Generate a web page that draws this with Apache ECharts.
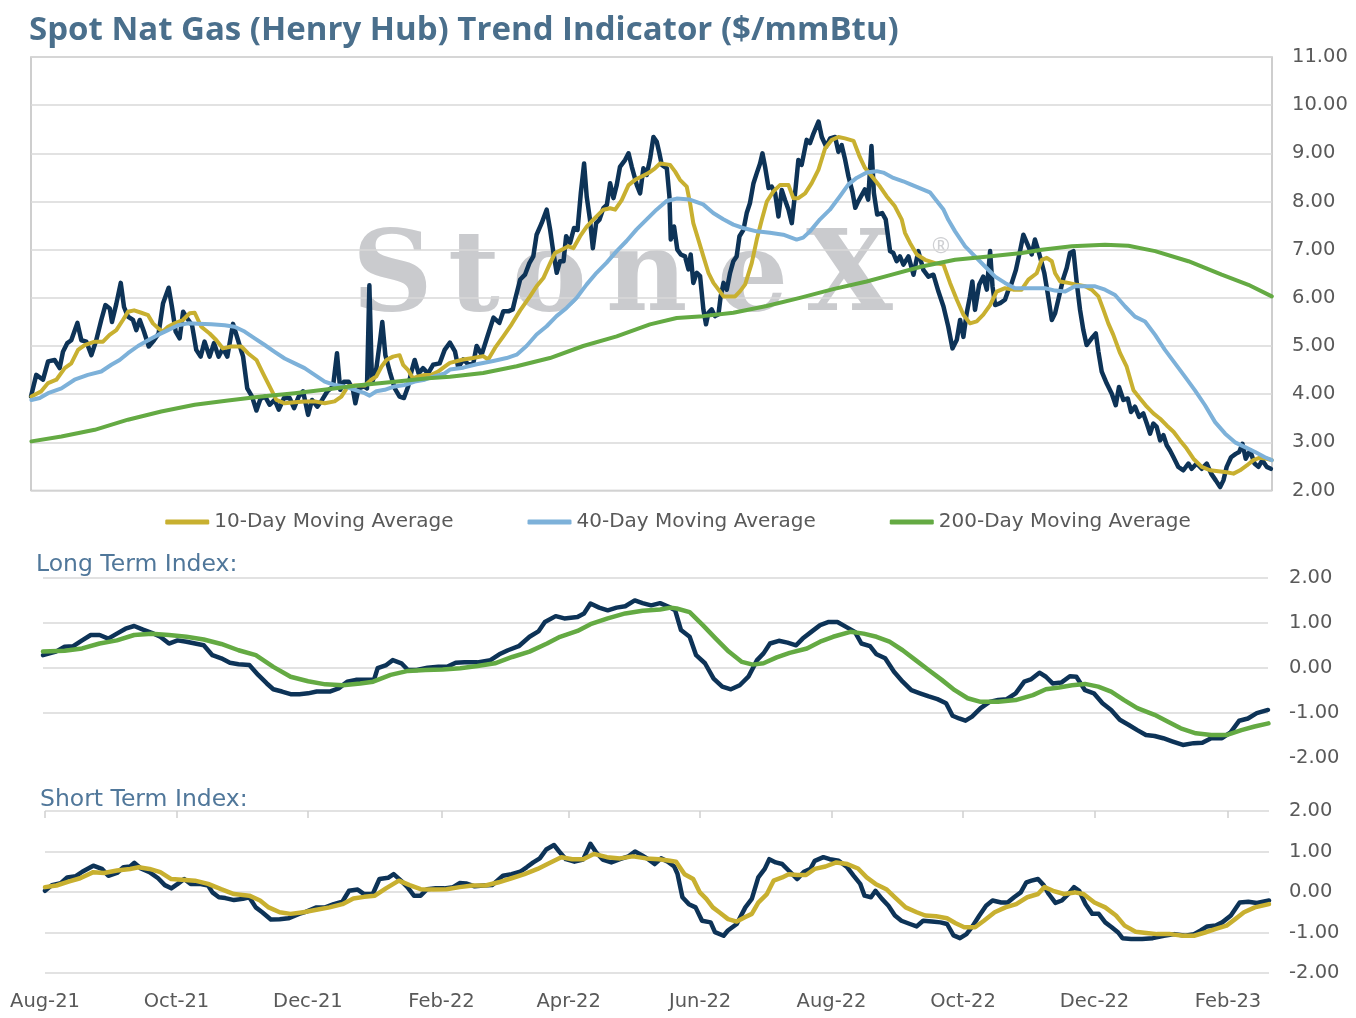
<!DOCTYPE html>
<html>
<head>
<meta charset="utf-8">
<script src="https://cdn.jsdelivr.net/npm/echarts@6/dist/echarts.min.js"></script>
<style>html,body{margin:0;padding:0;background:#fff;}#c{width:1356px;height:1018px;}</style>
</head>
<body>
<div id="c"></div>
<script>
// ---- text ----
const titleText = 'Spot Nat Gas (Henry Hub) Trend Indicator ($/mmBtu)';
const longTitle = 'Long Term Index:';
const shortTitle = 'Short Term Index:';
const legendNames = ['10-Day Moving Average', '40-Day Moving Average', '200-Day Moving Average'];
// x = days since 2021-08-01
const tickDays = [0, 61, 122, 184, 243, 304, 365, 426, 487, 549];
const tickLabels = ['Aug-21', 'Oct-21', 'Dec-21', 'Feb-22', 'Apr-22', 'Jun-22', 'Aug-22', 'Oct-22', 'Dec-22', 'Feb-23'];
const priceRange = [2, 11];
const indexRange = [-2, 2];

// ---- spot price ($/mmBtu) ----
const spot = [[1,3.95],[3.4,4.40],[6.5,4.30],[8.8,4.68],[11.8,4.71],[14.1,4.54],[15.6,4.88],[17.6,5.06],[19.4,5.12],[22.2,5.48],[24,5.12],[26.3,5.09],[28.6,4.81],[30.8,5.12],[33.1,5.54],[35,5.85],[37,5.78],[38,5.50],[40,5.88],[42,6.31],[43.5,5.81],[45.3,5.61],[47.6,5.54],[49.1,5.33],[50.7,5.54],[52.6,5.30],[54.8,4.99],[57.2,5.12],[59.3,5.26],[61.3,5.88],[63.9,6.21],[65.4,5.81],[67.1,5.30],[68.9,5.16],[70.5,5.71],[72.4,5.57],[74.6,5.43],[76.5,4.92],[78.5,4.78],[80.3,5.09],[82.6,4.78],[84.6,5.06],[86.7,4.78],[88.7,4.95],[90.7,4.78],[93.3,5.46],[95.6,5.12],[97.9,4.78],[99.8,4.12],[102,3.95],[104,3.66],[105.8,3.90],[108,3.95],[110,3.78],[112.3,3.88],[114.2,3.68],[116.6,3.92],[119.2,3.92],[121.2,3.71],[123.3,3.95],[125.3,4.06],[127.6,3.57],[129.4,3.88],[131.8,3.74],[134,3.88],[136.4,4.06],[139,4.16],[140.8,4.85],[142.3,4.09],[144,4.26],[146.1,4.26],[148.1,4.09],[149.2,3.81],[150.7,4.12],[153.2,4.16],[154.5,4.12],[155.6,6.26],[156.8,4.23],[158.8,4.54],[160.5,5.12],[161.5,5.50],[162.9,4.81],[164.9,4.47],[167.2,4.12],[169.4,3.95],[171.4,3.92],[173.3,4.16],[174.8,4.47],[176.3,4.71],[178.1,4.43],[180.1,4.54],[182.4,4.43],[184.7,4.61],[187.7,4.64],[190,4.92],[192.4,5.07],[194.7,4.89],[196.2,4.55],[198.5,4.72],[200.8,4.62],[203,4.62],[204.6,5.0],[206.9,4.82],[209.2,5.15],[212.3,5.59],[215,5.48],[216.8,5.72],[219.1,5.72],[221.1,5.76],[222.2,5.97],[224.5,6.38],[226.7,6.48],[228.7,6.72],[230.5,6.86],[232,7.31],[234.3,7.55],[236.6,7.83],[238.2,7.41],[239.7,6.93],[241.2,6.52],[242.7,6.76],[244.3,6.76],[245.5,7.28],[247.3,7.14],[249.1,7.45],[250.7,7.41],[252.2,8.17],[253.7,8.79],[254.9,8.10],[256.4,7.62],[257.7,7.03],[259.2,7.55],[260.7,7.62],[262.5,7.86],[264.1,7.93],[265.6,8.38],[267.1,8.07],[268.6,8.34],[270.1,8.72],[272.4,8.86],[274,9.0],[275.5,8.72],[277.8,8.34],[279.3,8.17],[280.8,8.69],[282.3,8.55],[283.9,8.90],[285.4,9.34],[286.9,9.24],[288.1,9.0],[289.2,8.76],[291.5,8.69],[292.7,8.10],[293.3,7.21],[294.8,7.48],[296.3,7.0],[297.9,6.90],[299.8,6.86],[301.4,6.59],[302.4,6.90],[303.6,6.31],[305.2,6.52],[306.7,6.45],[308.2,5.76],[309.4,5.45],[310.5,5.69],[312,5.76],[313.5,5.62],[315.1,5.66],[316.1,6.03],[317.4,6.31],[318.9,6.17],[320.4,6.52],[321.9,6.76],[323.4,6.86],[324.7,7.28],[326.5,7.41],[328,7.76],[329.5,7.97],[331.1,8.38],[332.6,8.59],[334.1,8.79],[335.2,9.0],[336.4,8.72],[338,8.28],[339.4,8.31],[341,8.17],[342.5,7.69],[344,8.24],[345.5,8.03],[347.1,7.83],[348.6,7.55],[350.1,8.17],[351.6,8.86],[353.1,8.76],[355.4,9.28],[356.9,9.21],[358.5,9.41],[360.8,9.66],[362.3,9.34],[364.3,9.14],[366.1,9.31],[368.4,9.34],[369.9,9.03],[371.4,9.17],[373,8.86],[374.5,8.52],[376.3,8.2],[377.6,7.87],[379,8.01],[382,8.25],[383.5,8.04],[385,9.15],[386.1,8.18],[387.6,7.73],[389.9,7.76],[391.5,7.63],[393.5,6.97],[395,6.93],[396.5,6.76],[398,6.86],[399.6,6.69],[401.9,6.86],[404.2,6.48],[406.4,6.97],[408.7,6.58],[411,6.44],[413.3,6.48],[415.6,6.13],[417.9,5.82],[420.1,5.40],[422,4.95],[424,5.13],[425.5,5.54],[427,5.19],[428.5,5.68],[430,6.03],[431.1,6.34],[432.3,5.75],[434.2,6.27],[436.1,6.44],[437.7,6.17],[439.2,6.97],[440.3,6.24],[441.5,5.85],[443.8,5.89],[446,5.96],[447.6,6.17],[449.1,6.31],[451,6.58],[453,7.0],[454.4,7.31],[456.4,7.10],[458.2,6.90],[459.7,7.21],[461.3,6.97],[462.8,6.72],[464,6.51],[465.5,6.10],[467.4,5.54],[468.9,5.68],[470.7,6.03],[472.7,6.41],[474.2,6.62],[475.7,6.93],[477.3,6.97],[478.8,6.31],[480.3,5.75],[481.8,5.33],[483.3,5.02],[485.6,5.16],[487.5,5.26],[488.7,4.88],[490.2,4.47],[492.5,4.22],[494.8,4.01],[496.6,3.77],[498.1,4.15],[500.1,3.88],[502.1,3.91],[503.6,3.63],[505.4,3.74],[507.3,3.53],[509.2,3.60],[510.8,3.39],[512.3,3.18],[513.8,3.39],[515.3,3.32],[516.9,3.04],[518.4,3.15],[519.9,2.94],[521.4,2.83],[523,2.69],[525.2,2.49],[527.5,2.42],[529.8,2.56],[531.3,2.45],[533.6,2.56],[535.9,2.45],[538.2,2.56],[540.2,2.35],[542.3,2.21],[544.3,2.07],[545.8,2.21],[547.3,2.49],[549.3,2.69],[551.4,2.76],[553,2.80],[554.5,2.97],[556,2.66],[558,2.83],[560,2.56],[561.8,2.49],[563.6,2.63],[565.6,2.49],[567.5,2.45]];

// ---- moving averages ----
const ma10 = [[1.2,3.95],[5.7,4.06],[8.8,4.23],[12.6,4.30],[16.4,4.54],[19.4,4.64],[22.5,4.92],[25.5,5.02],[30.1,5.09],[33.9,5.09],[36.9,5.23],[40,5.33],[43,5.54],[45.3,5.71],[48.1,5.74],[51.4,5.69],[54.5,5.64],[56.7,5.47],[59,5.37],[61.3,5.30],[63.6,5.40],[66.6,5.47],[70.4,5.54],[73.5,5.68],[75.8,5.69],[78.8,5.40],[82.6,5.26],[85.7,5.12],[88.7,4.95],[92.5,4.99],[97.1,4.99],[100.1,4.85],[104,4.71],[107,4.43],[110,4.16],[113.1,3.88],[116.9,3.81],[121.5,3.83],[126,3.85],[130.6,3.85],[135.2,3.81],[139.7,3.85],[142.8,3.95],[145.8,4.16],[148.9,4.18],[153.5,4.18],[156.5,4.30],[158.8,4.37],[161.1,4.57],[163.4,4.71],[166.4,4.78],[169.4,4.81],[171,4.61],[173.3,4.50],[175.5,4.33],[177.8,4.37],[180.9,4.40],[183.9,4.40],[187,4.47],[190,4.57],[192.4,4.65],[198.5,4.72],[203,4.75],[207.6,4.79],[209.9,4.72],[213,4.96],[216.8,5.20],[220.6,5.45],[224.5,5.74],[229,6.03],[232,6.24],[235.1,6.41],[238.2,6.72],[240.4,6.93],[243.5,7.0],[246.5,7.07],[248.8,7.03],[251.9,7.28],[254.9,7.48],[258.7,7.66],[262.5,7.83],[265.6,7.86],[267.9,7.83],[270.9,8.03],[274,8.34],[277,8.45],[280,8.52],[283.1,8.59],[286.1,8.69],[288.4,8.79],[293,8.76],[295.3,8.62],[297.5,8.45],[300.6,8.31],[302.1,7.97],[303.6,7.55],[305.9,7.21],[308.2,6.86],[310.5,6.52],[312.8,6.31],[315.1,6.17],[317.4,6.03],[319.6,6.03],[322.7,6.03],[325,6.14],[327.3,6.28],[330.3,6.72],[332.6,7.21],[334.9,7.62],[337.2,8.0],[340.2,8.21],[343.2,8.34],[347.1,8.34],[349.3,8.07],[351.6,8.07],[354.7,8.17],[357.7,8.38],[360.8,8.66],[363.8,9.10],[366.9,9.28],[369.9,9.34],[372.9,9.31],[376.8,9.26],[379.7,8.92],[382,8.70],[385.8,8.49],[388.9,8.31],[391.9,8.11],[395.7,7.90],[398.8,7.63],[400.3,7.35],[402.6,7.14],[405.7,6.90],[409.5,6.79],[414.1,6.72],[417.9,6.69],[420.9,6.31],[424,5.96],[427,5.65],[430,5.47],[433.1,5.51],[436.1,5.65],[439.2,5.85],[442.2,6.13],[446,6.20],[449.8,6.17],[453.6,6.17],[456.7,6.38],[460.5,6.51],[462.8,6.79],[465.1,6.83],[467.4,6.76],[468.9,6.51],[471.2,6.34],[475,6.31],[478.8,6.27],[482.6,6.24],[485.6,6.17],[488.7,6.03],[491,5.75],[493.2,5.47],[495.5,5.23],[498.6,4.85],[501.6,4.57],[504.7,4.08],[507.7,3.91],[510.8,3.74],[513.8,3.60],[516.9,3.49],[519.9,3.35],[523,3.22],[526,3.04],[529,2.87],[532.1,2.66],[535.9,2.49],[539.7,2.42],[543.5,2.40],[547.3,2.38],[550.4,2.35],[553.4,2.42],[556.5,2.52],[559.5,2.63],[562.5,2.68],[565.6,2.66],[567.9,2.63]];
const ma40 = [[1.2,3.88],[5,3.92],[8.8,4.02],[14.9,4.12],[20.9,4.30],[27,4.40],[33.1,4.47],[37.7,4.61],[41.5,4.71],[45.3,4.85],[49.9,5.0],[54.5,5.12],[59,5.23],[63.6,5.33],[68.2,5.43],[72.7,5.47],[77.3,5.46],[83.4,5.45],[89.5,5.43],[94,5.40],[98.6,5.30],[103.2,5.16],[107.8,5.02],[112.3,4.88],[116.9,4.74],[121.5,4.64],[126,4.54],[130.6,4.40],[135.2,4.26],[139.7,4.19],[144.3,4.16],[148.9,4.09],[153.5,4.02],[155.7,3.97],[158.8,4.06],[162.6,4.09],[167.2,4.16],[171.7,4.19],[176.3,4.26],[180.9,4.30],[185.4,4.37],[190,4.43],[192.4,4.51],[198.5,4.55],[204.6,4.62],[212.2,4.69],[218.3,4.75],[222.9,4.82],[227.4,5.0],[232,5.24],[236.6,5.41],[241.1,5.62],[245.7,5.79],[250.3,6.0],[254.9,6.28],[259.4,6.52],[264,6.73],[268.6,6.97],[273.1,7.18],[277.7,7.42],[282.3,7.63],[286.8,7.83],[291.4,8.01],[296,8.06],[302,8.04],[308.1,7.94],[312.7,7.76],[317.3,7.63],[321.9,7.52],[326.4,7.45],[332.5,7.38],[338.6,7.35],[344.7,7.31],[350.8,7.21],[353.8,7.25],[356.9,7.38],[361.5,7.63],[366,7.83],[370.6,8.11],[374.4,8.35],[378.2,8.49],[382.8,8.60],[387.4,8.63],[390.4,8.60],[395,8.49],[399.5,8.42],[402.6,8.36],[411.7,8.19],[417.8,7.84],[420.1,7.62],[423.2,7.38],[427.8,7.07],[432.3,6.86],[436.9,6.65],[441.5,6.44],[446,6.31],[450.6,6.20],[455.2,6.20],[459.7,6.20],[464.3,6.20],[468.9,6.15],[473.5,6.13],[478,6.24],[482.6,6.24],[487.2,6.24],[491.7,6.17],[496.3,6.06],[500.9,5.82],[505.4,5.61],[510,5.51],[514.6,5.23],[519.1,4.92],[523.7,4.64],[528.3,4.36],[532.8,4.08],[537.4,3.77],[542,3.42],[546.6,3.18],[551.1,3.0],[555.7,2.90],[560.3,2.80],[564.8,2.69],[567.9,2.63]];
const ma200 = [[1.2,3.02],[14.9,3.12],[30.1,3.26],[45.3,3.47],[60.5,3.64],[75.8,3.78],[91,3.87],[106.2,3.95],[121.5,4.02],[136.7,4.10],[152,4.19],[167.2,4.26],[182.4,4.33],[192.4,4.36],[207.6,4.44],[222.9,4.58],[238.1,4.75],[253.3,5.0],[268.6,5.20],[283.8,5.45],[296,5.58],[308.1,5.62],[321.9,5.69],[337.1,5.83],[352.3,6.0],[367.5,6.18],[382.8,6.34],[392.7,6.46],[408,6.65],[423.2,6.79],[438.4,6.86],[453.7,6.93],[462.8,7.0],[476.5,7.07],[491.7,7.10],[502.4,7.08],[514.6,6.97],[529.8,6.76],[545,6.48],[557.2,6.27],[567.9,6.03]];

// ---- long term index ----
const ltIndex = [[1,0.28],[7,0.36],[11,0.47],[15,0.48],[19.1,0.61],[23.1,0.73],[27.2,0.73],[31.2,0.65],[35.2,0.76],[39.2,0.87],[43.2,0.93],[47.3,0.85],[51.3,0.78],[55.3,0.69],[59.3,0.54],[63.3,0.61],[67.4,0.58],[71.4,0.54],[75.4,0.50],[79.4,0.28],[83.5,0.21],[87.5,0.11],[91.5,0.08],[96.5,0.06],[100.6,-0.16],[104.6,-0.35],[107.6,-0.48],[111.6,-0.53],[115.6,-0.59],[119.7,-0.59],[123.7,-0.57],[127.7,-0.53],[133.7,-0.53],[137.8,-0.46],[141.8,-0.31],[145.8,-0.27],[149.8,-0.27],[154.2,-0.27],[155.9,-0.01],[159.9,0.06],[162.9,0.17],[166.9,0.10],[169.9,-0.05],[174,-0.05],[179,0.0],[184,0.02],[188,0.02],[192,0.11],[196.1,0.12],[202.1,0.12],[208.1,0.17],[212.2,0.30],[216.2,0.39],[221.2,0.48],[226.2,0.69],[230.3,0.81],[233.3,1.02],[238.3,1.15],[242.3,1.10],[248.4,1.13],[251.4,1.21],[254.4,1.43],[258.4,1.34],[262.4,1.28],[266.5,1.34],[270.5,1.37],[274.9,1.50],[278.5,1.44],[282.5,1.39],[286.6,1.44],[290.6,1.36],[293.6,1.28],[296.3,0.84],[300.3,0.69],[303.3,0.28],[307.4,0.10],[311.4,-0.24],[315.4,-0.42],[319.4,-0.48],[323.5,-0.39],[327.5,-0.20],[331.5,0.17],[334.5,0.32],[337.5,0.54],[341.6,0.60],[345.6,0.56],[349.6,0.50],[352.6,0.65],[356.6,0.80],[360.7,0.95],[364.7,1.02],[368.7,1.02],[372.7,0.91],[376.8,0.80],[379.8,0.54],[383.8,0.48],[386.8,0.30],[390.8,0.21],[394.9,-0.09],[398.9,-0.31],[402.9,-0.50],[406.9,-0.57],[411,-0.64],[415,-0.70],[419,-0.79],[422,-1.07],[425,-1.13],[428,-1.18],[431,-1.09],[435,-0.90],[439.1,-0.76],[443.1,-0.72],[447.1,-0.70],[451.2,-0.57],[455.2,-0.31],[458.2,-0.26],[462.2,-0.11],[465.2,-0.20],[468.3,-0.35],[472.3,-0.33],[476.3,-0.19],[479.3,-0.20],[483.3,-0.50],[487.4,-0.57],[491.4,-0.79],[495.4,-0.94],[499.4,-1.16],[503.4,-1.27],[507.5,-1.39],[511.5,-1.50],[515.5,-1.52],[519.5,-1.57],[523.6,-1.64],[528.6,-1.72],[533.6,-1.68],[537.6,-1.67],[541.7,-1.57],[546.7,-1.57],[550.7,-1.44],[554.7,-1.18],[558.7,-1.13],[562.8,-1.01],[568,-0.94]];
const ltSignal = [[1,0.36],[11,0.38],[19.1,0.43],[27.2,0.54],[35.2,0.61],[43.2,0.73],[51.3,0.76],[59.3,0.73],[67.4,0.69],[75.4,0.63],[83.5,0.53],[91.5,0.39],[99.5,0.28],[107.6,0.02],[115.6,-0.20],[123.7,-0.30],[131.7,-0.37],[139.8,-0.39],[147.8,-0.35],[153.8,-0.31],[161.9,-0.16],[169.9,-0.07],[178,-0.05],[186,-0.04],[194.1,-0.01],[202.1,0.04],[210.2,0.10],[218.2,0.24],[226.2,0.36],[234.3,0.54],[240.3,0.69],[248.4,0.82],[254.4,0.97],[262.4,1.10],[270.5,1.21],[278.5,1.27],[286.6,1.30],[291.6,1.34],[294.3,1.32],[300.3,1.24],[306.4,0.95],[312.4,0.65],[318.4,0.36],[324.5,0.13],[329.5,0.07],[334.5,0.10],[340.6,0.23],[346.6,0.33],[354.6,0.43],[360.7,0.58],[366.7,0.69],[374.7,0.80],[380.8,0.76],[386.8,0.69],[392.8,0.58],[398.9,0.39],[404.9,0.17],[410.9,-0.05],[417,-0.27],[423,-0.50],[429,-0.68],[435,-0.76],[443.1,-0.76],[451.2,-0.72],[459.2,-0.61],[465.2,-0.48],[471.3,-0.44],[477.3,-0.39],[483.3,-0.36],[489.4,-0.42],[495.4,-0.53],[501.4,-0.72],[507.5,-0.90],[515.5,-1.05],[521.5,-1.20],[527.6,-1.35],[534.6,-1.46],[541.7,-1.50],[548.7,-1.50],[555.7,-1.39],[561.8,-1.31],[568.2,-1.24]];

// ---- short term index ----
const stIndex = [[0,0.03],[3.2,0.17],[7.3,0.22],[10.3,0.36],[14.3,0.39],[17.3,0.50],[22.4,0.65],[26.4,0.57],[29.4,0.40],[33.4,0.47],[36.4,0.61],[39.5,0.63],[41.5,0.72],[44.5,0.58],[48.5,0.49],[52.5,0.34],[55.6,0.17],[58.6,0.09],[61.6,0.20],[64.6,0.32],[67.6,0.20],[71.7,0.20],[75.7,0.16],[77.7,-0.01],[80.7,-0.13],[83.7,-0.15],[87.7,-0.20],[91.8,-0.17],[94.8,-0.13],[97.8,-0.38],[100.8,-0.50],[104.8,-0.68],[108.9,-0.67],[112.9,-0.65],[117.9,-0.54],[121,-0.49],[126,-0.38],[130,-0.38],[134,-0.30],[138,-0.24],[141.1,0.03],[145.1,0.06],[148.1,-0.05],[152.1,-0.05],[155.2,0.32],[159.2,0.35],[161.8,0.44],[165.2,0.28],[168.2,0.12],[171.2,-0.09],[174.3,-0.09],[177.3,0.07],[181.3,0.09],[185.3,0.09],[189.4,0.12],[192.4,0.22],[195.4,0.21],[199.4,0.14],[203.4,0.16],[207.5,0.17],[212.5,0.40],[216.5,0.44],[220.5,0.50],[223.5,0.61],[226.6,0.73],[229.6,0.83],[232.6,1.05],[236.2,1.16],[238.6,1.00],[241.7,0.81],[245.7,0.75],[249.7,0.80],[253.1,1.19],[255.7,0.98],[258.8,0.80],[262.8,0.73],[266.8,0.81],[270.8,0.88],[273.8,1.00],[276.9,0.91],[279.9,0.81],[282.9,0.69],[285.9,0.83],[289,0.75],[292,0.63],[293.5,0.45],[295.8,-0.13],[298.8,-0.30],[301.9,-0.38],[304.9,-0.71],[308.9,-0.75],[310.9,-0.99],[314.9,-1.08],[316.9,-0.95],[321,-0.79],[325,-0.38],[328,-0.17],[331,0.36],[334,0.57],[336.1,0.81],[339.1,0.73],[342.1,0.69],[345.1,0.53],[349.1,0.32],[352.2,0.50],[355.2,0.57],[357.2,0.77],[361.2,0.86],[364.2,0.81],[368.3,0.77],[372.3,0.61],[375.3,0.40],[378.3,0.20],[380.3,-0.09],[383.3,-0.13],[385.4,0.03],[388.4,-0.17],[391.4,-0.34],[394.4,-0.58],[397.4,-0.71],[401.4,-0.79],[404.5,-0.85],[407.5,-0.71],[411.5,-0.73],[415.5,-0.75],[418.6,-0.79],[421.6,-1.07],[424.6,-1.14],[427.6,-1.04],[430.6,-0.83],[433.6,-0.58],[436.7,-0.34],[439.7,-0.21],[443.7,-0.26],[446.7,-0.26],[449.7,-0.13],[452.8,-0.01],[455.4,0.24],[457.8,0.28],[460.8,0.32],[463.4,0.17],[465.8,-0.05],[468.9,-0.27],[471.9,-0.21],[474.9,-0.05],[477.5,0.12],[479.9,0.03],[482.9,-0.30],[486,-0.54],[489,-0.54],[492,-0.75],[495,-0.87],[498,-1.00],[500,-1.14],[504,-1.16],[509.1,-1.16],[514.1,-1.14],[519.2,-1.08],[524.2,-1.04],[529.2,-1.08],[533.2,-1.04],[536.3,-0.95],[539.3,-0.85],[543.3,-0.83],[546.3,-0.75],[550.3,-0.58],[554.4,-0.26],[558.4,-0.24],[562.4,-0.27],[568,-0.21]];
const stSignal = [[0,0.12],[5.3,0.16],[11.3,0.26],[16.3,0.34],[22.4,0.49],[27.4,0.47],[33.4,0.53],[39.5,0.57],[43.5,0.61],[48.5,0.57],[53.5,0.49],[58.6,0.32],[63.6,0.30],[69.6,0.28],[75.7,0.20],[81.7,0.07],[87.7,-0.05],[94.8,-0.09],[99.8,-0.21],[103.8,-0.38],[108.9,-0.50],[113.9,-0.54],[119.9,-0.50],[126,-0.44],[132,-0.38],[138,-0.30],[143.1,-0.16],[148.1,-0.12],[153.1,-0.09],[158.2,0.09],[164.2,0.28],[169.2,0.17],[174.3,0.07],[180.3,0.06],[186.3,0.07],[192.4,0.12],[198.4,0.16],[204.4,0.16],[210.5,0.24],[216.5,0.34],[222.5,0.44],[228.6,0.57],[234.6,0.73],[239.6,0.86],[244.7,0.81],[249.7,0.81],[254.7,0.94],[260.8,0.86],[266.8,0.83],[272.8,0.88],[278.9,0.83],[284.9,0.81],[290,0.77],[292.8,0.75],[296.8,0.44],[300.8,0.32],[303.9,-0.01],[306.9,-0.17],[309.9,-0.38],[312.9,-0.50],[317,-0.67],[321,-0.73],[325,-0.62],[328,-0.54],[331,-0.26],[335,-0.05],[338.1,0.28],[342.1,0.36],[345.1,0.44],[349.1,0.42],[353.2,0.42],[357.2,0.57],[362.2,0.63],[367.2,0.73],[372.3,0.69],[377.3,0.58],[381.3,0.36],[385.4,0.20],[390.4,0.07],[394.4,-0.13],[399.4,-0.38],[404.5,-0.50],[408.5,-0.58],[413.5,-0.60],[418.6,-0.65],[422.6,-0.77],[426.6,-0.87],[431.6,-0.87],[435.7,-0.71],[440.7,-0.50],[445.7,-0.38],[450.7,-0.30],[455.8,-0.13],[460.8,-0.05],[463.8,0.12],[467.8,0.03],[472.9,-0.05],[477.9,-0.01],[481.9,-0.05],[487,-0.26],[492,-0.38],[497,-0.58],[501,-0.83],[506.1,-0.98],[511.1,-1.01],[516.1,-1.04],[522.2,-1.04],[528.2,-1.08],[533.2,-1.08],[538.3,-1.00],[543.3,-0.91],[548.3,-0.83],[552.3,-0.67],[556.4,-0.50],[561.4,-0.38],[568,-0.30]];

// ---- styling ----
const FONT = '"DejaVu Sans"';
const TFONT = '"Open Sans"';
const NAVY = '#0d3357', GOLD = '#c8b030', LBLUE = '#7db1d9', GREEN = '#64aa43';
const GRIDC = '#d9d9d9', LABELC = '#595959';
const fmt2 = v => v.toFixed(2);

function lineSeries(name, data, color, width, xi, z) {
  return { type: 'line', name, data, xAxisIndex: xi, yAxisIndex: xi, symbol: 'none', showSymbol: false,
    lineStyle: { color, width, join: 'round', cap: 'round' }, itemStyle: { color }, z, silent: true };
}
function yAxisDef(gi, range, splitColors, margin) {
  return { type: 'value', gridIndex: gi, position: 'right', min: range[0], max: range[1], interval: 1,
    axisLine: { show: false }, axisTick: { show: false },
    axisLabel: { formatter: fmt2, color: LABELC, fontSize: 19.5, fontFamily: FONT, margin, padding: [3, 0, 0, 0] },
    splitLine: { show: true, lineStyle: { color: splitColors, width: 1.5 } } };
}
function hiddenX(gi, min, max) {
  return { type: 'value', gridIndex: gi, min, max, show: false };
}

const chart = echarts.init(document.getElementById('c'), null, { renderer: 'canvas' });
const wmLetters = ['S', 't', 'o', 'n', 'e', 'X'];
const wmX = [352, 448, 512, 606, 717, 806];
const graphics = [
  { type: 'text', x: 29, y: 31, style: { text: titleText, font: 'bold 33px ' + TFONT, fill: '#4a6f8c', verticalAlign: 'middle' } },
  { type: 'text', x: 36, y: 565, style: { text: longTitle, font: '23.5px ' + FONT, fill: '#50779a', verticalAlign: 'middle' } },
  { type: 'text', x: 40, y: 800, style: { text: shortTitle, font: '23.5px ' + FONT, fill: '#50779a', verticalAlign: 'middle' } },
  { type: 'text', x: 941, y: 247, z: -5, style: { text: '®', font: '22px ' + TFONT, fill: '#cfd0d3', align: 'center', verticalAlign: 'middle' } }
];
wmLetters.forEach((ch, i) => graphics.push({ type: 'text', x: wmX[i], y: 281, z: -5,
  style: { text: ch, font: 'bold 112px "DejaVu Serif"', fill: '#cacbce', verticalAlign: 'middle' } }));

chart.setOption({
  animation: false,
  backgroundColor: '#ffffff',
  graphic: graphics,
  legend: { data: legendNames, left: 'center', top: 507, icon: 'roundRect', itemWidth: 44, itemHeight: 5, itemGap: 74,
    textStyle: { fontSize: 20, color: LABELC, fontFamily: FONT } },
  grid: [
    { left: 31, top: 57, width: 1241, height: 433.5, show: true, borderColor: '#bfbfbf', borderWidth: 1.5 },
    { left: 43, top: 578, width: 1225, height: 179.5 },
    { left: 45, top: 811, width: 1224, height: 162 }
  ],
  xAxis: [
    hiddenX(0, 1, 568),
    hiddenX(1, 1, 568),
    { type: 'value', gridIndex: 2, min: 0, max: 568, position: 'bottom',
      axisLine: { show: false }, axisTick: { show: false }, splitLine: { show: false },
      axisLabel: { customValues: tickDays, color: LABELC, fontSize: 19.5, fontFamily: FONT, margin: 19,
        formatter: v => { const i = tickDays.indexOf(Math.round(v)); return i >= 0 ? tickLabels[i] : ''; } } },
    { type: 'value', gridIndex: 2, min: 0, max: 568, position: 'top',
      axisLine: { show: false }, splitLine: { show: false },
      axisTick: { show: true, inside: true, length: 7, customValues: tickDays, lineStyle: { color: '#cfcfcf', width: 1.5 } },
      axisLabel: { show: false, customValues: tickDays } }
  ],
  yAxis: [
    yAxisDef(0, priceRange, GRIDC, 20),
    yAxisDef(1, indexRange, ['transparent', GRIDC, GRIDC, GRIDC, GRIDC], 21),
    yAxisDef(2, indexRange, GRIDC, 20)
  ],
  series: [
    lineSeries('Spot', spot, NAVY, 4.5, 0, 2),
    lineSeries(legendNames[0], ma10, GOLD, 4, 0, 3),
    lineSeries(legendNames[1], ma40, LBLUE, 4, 0, 4),
    lineSeries(legendNames[2], ma200, GREEN, 4, 0, 5),
    lineSeries('Long Term Index', ltIndex, NAVY, 4.5, 1, 2),
    lineSeries('Long Term Signal', ltSignal, GREEN, 4.5, 1, 3),
    lineSeries('Short Term Index', stIndex, NAVY, 4.5, 2, 2),
    lineSeries('Short Term Signal', stSignal, GOLD, 4.5, 2, 3)
  ]
});
</script>
</body>
</html>
